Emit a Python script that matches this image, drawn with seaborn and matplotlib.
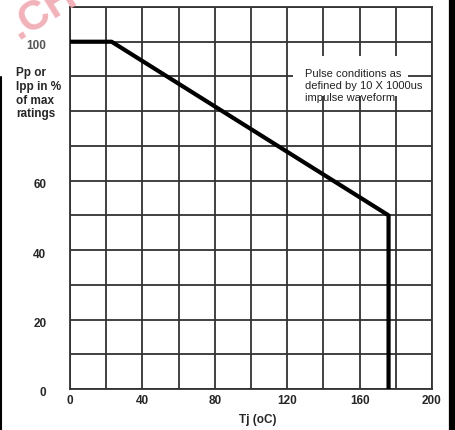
import matplotlib
matplotlib.use("Agg")
import matplotlib.pyplot as plt
import matplotlib.transforms as mtransforms
from matplotlib.lines import Line2D
from matplotlib.patches import Rectangle
import seaborn as sns
import pandas as pd

# ---- data ----
tj = [0, 23, 176, 176]
pct = [100, 100, 50, 0]
x_grid = list(range(0, 201, 20))
y_grid = list(range(0, 111, 10))
x_labels = {0: "0", 40: "40", 80: "80", 120: "120", 160: "160", 200: "200"}
y_labels = {0: "0", 20: "20", 40: "40", 60: "60", 100: "100"}
note = "Pulse conditions as\ndefined by 10 X 1000us\nimpulse waveform"
ylab = "Pp or\nIpp in %\nof max\nratings"
xlab = "Tj (oC)"

sns.set_style("white")
plt.rcParams['font.family'] = ['Liberation Sans', 'DejaVu Sans']

fig = plt.figure(figsize=(4.55, 4.30), dpi=100)
ax = fig.add_axes([70/455, 1-389/430, 362/455, 382/430])

gc = '#333333'
ax.set_xlim(0, 200)
ax.set_ylim(0, 110)
ax.set_xticks(x_grid)
ax.set_xticklabels([x_labels.get(v, "") for v in x_grid])
ax.set_yticks(y_grid)
ax.set_yticklabels([y_labels.get(v, "") for v in y_grid])
ax.grid(True, color=gc, linewidth=1.3)
ax.set_axisbelow(True)
for s in ax.spines.values():
    s.set_color(gc)
    s.set_linewidth(1.3)
    s.set_visible(True)
ax.tick_params(length=0, labelsize=8.5)
ax.tick_params(axis='y', pad=17)
ax.tick_params(axis='x', pad=4.5)
for lab in ax.get_xticklabels() + ax.get_yticklabels():
    lab.set_fontweight('bold')
off = mtransforms.ScaledTranslation(0, -3/100, fig.dpi_scale_trans)
for lab in ax.get_yticklabels():
    lab.set_transform(lab.get_transform() + off)
    if lab.get_text() == "100":
        lab.set_color('#555555')

# note box
ax.add_patch(Rectangle((123, 84.4), 64, 11.6, facecolor='white', edgecolor='none', zorder=1.5))
ax.text(130, 87.2, note, fontsize=8, va='center', ha='left', color='#222222',
        linespacing=1.25, zorder=3)

df = pd.DataFrame({"tj": tj, "pct": pct})
sns.lineplot(data=df, x="tj", y="pct", sort=False, estimator=None,
             color='black', linewidth=3, ax=ax, zorder=4)
ax.set_xlabel("")
ax.set_ylabel("")

fig.text(16/455, 1-67/430, ylab, fontsize=8.5, fontweight='bold', ha='left', va='top',
         multialignment='left', linespacing=1.2)
fig.text(258/455, 1-420/430, xlab, fontsize=8.5, fontweight='bold', ha='center', va='center')

# borders
fig.add_artist(Line2D([452/455, 452/455], [0, 1], transform=fig.transFigure, color='black', linewidth=4.5))
fig.add_artist(Line2D([1/455, 1/455], [0, 1-77/430], transform=fig.transFigure, color='black', linewidth=1.5))

# watermark
fig.text(2/455, 1-48/430, ".CH", fontsize=30, fontweight='bold', color='#f0a4ad',
         rotation=32, ha='left', va='bottom', alpha=0.85, zorder=0)

fig.savefig("out.png", dpi=100)
